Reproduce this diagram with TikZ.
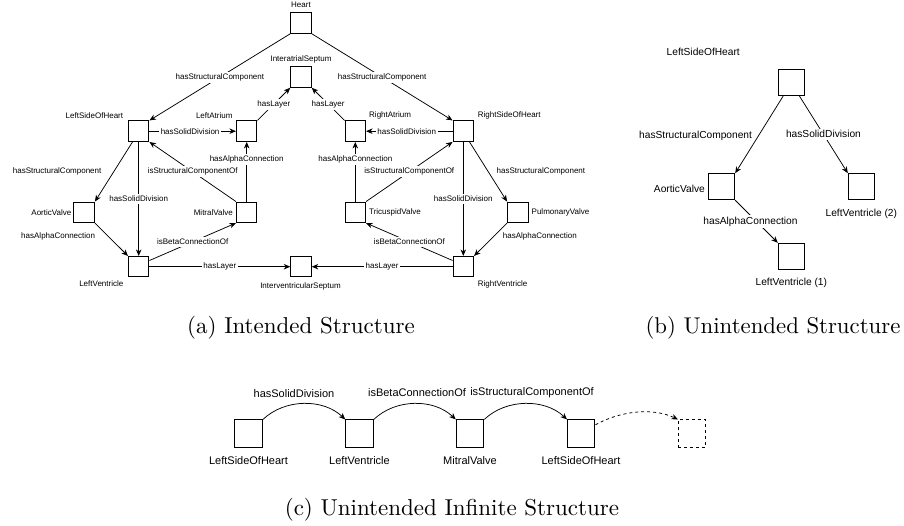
\documentclass[tikz,border=0pt]{standalone}
\usepackage{fontspec}
\newfontfamily\labfont{Liberation Sans}
\usetikzlibrary{arrows.meta}
\newcommand\labA{\labfont\fontsize{8}{9.6}\selectfont}
\newcommand\labB{\labfont\fontsize{10.2}{12}\selectfont}
\newcommand\labC{\labfont\fontsize{11}{13}\selectfont}
\begin{document}
\begin{tikzpicture}[x=1pt,y=-1pt,
  boxa/.style={draw,minimum size=20.5pt,inner sep=0pt,line width=1pt},
  boxb/.style={draw,minimum size=26pt,inner sep=0pt,line width=1pt},
  boxc/.style={draw,minimum size=27.5pt,inner sep=0pt,line width=1pt},
  txa/.style={font=\labA,inner sep=0pt},
  txb/.style={font=\labB,inner sep=0pt},
  txc/.style={font=\labC,inner sep=0pt},
  ela/.style={font=\labA,fill=white,inner sep=1.8pt},
  elb/.style={font=\labB,fill=white,inner sep=2pt},
  elc/.style={font=\labC,inner sep=0pt},
  arr/.style={line width=0.75pt,-{Stealth[length=6.5pt,width=5.5pt,inset=2pt]}},
  captext/.style={inner sep=0pt,anchor=base}]
\useasboundingbox (0,0) rectangle (904,525);

% ---------- (a) ----------
\node[boxa] (heart) at (301,23) {};
\node[boxa] (is) at (301,77) {};
\node[boxa] (lsh) at (138.7,131.2) {};
\node[boxa] (la) at (246.7,131.2) {};
\node[boxa] (ra) at (355.3,131.2) {};
\node[boxa] (rsh) at (463.3,131.2) {};
\node[boxa] (av) at (84.2,212.3) {};
\node[boxa] (mv) at (246.7,212.3) {};
\node[boxa] (tv) at (355.3,212.3) {};
\node[boxa] (pv) at (517.8,212.3) {};
\node[boxa] (lv) at (138.7,266.7) {};
\node[boxa] (ivs) at (301,266.7) {};
\node[boxa] (rv) at (463.3,266.7) {};

\node[txa] (theart) at (301,5) {Heart};
\node[txa] (tis) at (301,59) {InteratrialSeptum};
\node[txa,anchor=east] (tlsh) at (123.3,115.7) {LeftSideOfHeart};
\node[txa,anchor=east] (tla) at (232.7,115.7) {LeftAtrium};
\node[txa,anchor=west] (tra) at (369,115.7) {RightAtrium};
\node[txa,anchor=west] (trsh) at (477.7,115.7) {RightSideOfHeart};
\node[txa,anchor=east] (tav) at (71.5,212.7) {AorticValve};
\node[txa,anchor=east] (tmv) at (233,212.7) {MitralValve};
\node[txa,anchor=west] (ttv) at (369,212.7) {TricuspidValve};
\node[txa,anchor=west] (tpv) at (531.5,212.7) {PulmonaryValve};
\node[txa,anchor=east] (tlv) at (123.5,284) {LeftVentricle};
\node[txa] (tivs) at (300.5,286) {InterventricularSeptum};
\node[txa,anchor=west] (trv) at (477.7,284) {RightVentricle};

\draw[arr] (heart.south west) -- node[ela,pos=0.5]{hasStructuralComponent} (lsh.north east);
\draw[arr] (heart.south east) -- node[ela,pos=0.5]{hasStructuralComponent} (rsh.north west);
\draw[arr] (la.north east) -- node[ela,pos=0.5]{hasLayer} (is.south west);
\draw[arr] (ra.north west) -- node[ela,pos=0.5]{hasLayer} (is.south east);
\draw[arr] (lsh.east) -- node[ela,pos=0.47]{hasSolidDivision} (la.west);
\draw[arr] (rsh.west) -- node[ela,pos=0.53]{hasSolidDivision} (ra.east);
\draw[arr] (mv.north) -- node[ela,pos=0.71]{hasAlphaConnection} (la.south);
\draw[arr] (tv.north) -- node[ela,pos=0.71]{hasAlphaConnection} (ra.south);
\draw[arr] (mv.north west) -- node[ela,pos=0.5]{isStructuralComponentOf} (lsh.south east);
\draw[arr] (tv.north east) -- node[ela,pos=0.5]{isStructuralComponentOf} (rsh.south west);
\draw[arr] (lsh.240) -- node[txa,pos=0.5,anchor=east,xshift=-12pt]{hasStructuralComponent} (av.north east);
\draw[arr] (rsh.300) -- node[txa,pos=0.5,anchor=west,xshift=8pt]{hasStructuralComponent} (pv.north west);
\draw[arr] (lsh.south) -- node[ela,pos=0.5]{hasSolidDivision} (lv.north);
\draw[arr] (rsh.south) -- node[ela,pos=0.5]{hasSolidDivision} (rv.north);
\draw[arr] (av.south east) -- node[txa,pos=0.5,anchor=east,xshift=-16pt,yshift=3pt]{hasAlphaConnection} (lv.north west);
\draw[arr] (pv.south west) -- node[txa,pos=0.5,anchor=west,xshift=12pt,yshift=3pt]{hasAlphaConnection} (rv.north east);
\draw[arr] (lv.30) -- node[ela,pos=0.5]{isBetaConnectionOf} (mv.south west);
\draw[arr] (rv.150) -- node[ela,pos=0.5]{isBetaConnectionOf} (tv.south east);
\draw[arr] (lv.east) -- node[ela,pos=0.5]{hasLayer} (ivs.west);
\draw[arr] (rv.west) -- node[ela,pos=0.5]{hasLayer} (ivs.east);

% ---------- (b) ----------
\node[boxb] (blsh) at (791.3,82) {};
\node[boxb] (bav) at (721.7,186.7) {};
\node[boxb] (blv2) at (861.3,186.7) {};
\node[boxb] (blv1) at (791.3,256.3) {};
\node[txb,anchor=east] (tblsh) at (740,52) {LeftSideOfHeart};
\node[txb,anchor=east] (tbav) at (705,188.5) {AorticValve};
\node[txb] (tblv2) at (861.3,213.5) {LeftVentricle (2)};
\node[txb] (tblv1) at (791.3,283) {LeftVentricle (1)};
\draw[arr] (blsh.240) -- node[txb,pos=0.52,anchor=east,xshift=-6pt]{hasStructuralComponent} (bav.north east);
\draw[arr] (blsh.300) -- node[elb,pos=0.5]{hasSolidDivision} (blv2.north west);
\draw[arr] (bav.south east) -- node[elb,pos=0.5,xshift=-6pt]{hasAlphaConnection} (blv1.north west);

% ---------- (c) ----------
\node[boxc] (c1) at (248.7,433.7) {};
\node[boxc] (c2) at (359.5,433.7) {};
\node[boxc] (c3) at (470,433.7) {};
\node[boxc] (c4) at (581.2,433.7) {};
\node[boxc,dashed] (c5) at (692.2,433.7) {};
\node[txc] (tc1) at (248.5,461) {LeftSideOfHeart};
\node[txc] (tc2) at (359.5,461) {LeftVentricle};
\node[txc] (tc3) at (470,461) {MitralValve};
\node[txc] (tc4) at (581,461) {LeftSideOfHeart};
\node[elc] (lc1) at (294,394) {hasSolidDivision};
\node[elc] (lc2) at (417,393) {isBetaConnectionOf};
\node[elc] (lc3) at (532,393) {isStructuralComponentOf};
\draw[arr] (c1.north east) .. controls +(22,-21) and +(-22,-21) .. (c2.north west);
\draw[arr] (c2.north east) .. controls +(22,-21) and +(-22,-21) .. (c3.north west);
\draw[arr] (c3.north east) .. controls +(22,-21) and +(-22,-21) .. (c4.north west);
\draw[arr,dashed] (c4.32) .. controls +(25,-14) and +(-25,-12) .. (c5.north west);

% ---------- captions ----------
\node[captext] (capa) at (301,333.5) {\scalebox{2.3}{(a) Intended Structure}};
\node[captext] (capb) at (773,333.5) {\scalebox{2.28}{(b) Unintended Structure}};
\node[captext] (capc) at (452,515) {\scalebox{2.3}{(c) Unintended Infinite Structure}};
\end{tikzpicture}
\end{document}
